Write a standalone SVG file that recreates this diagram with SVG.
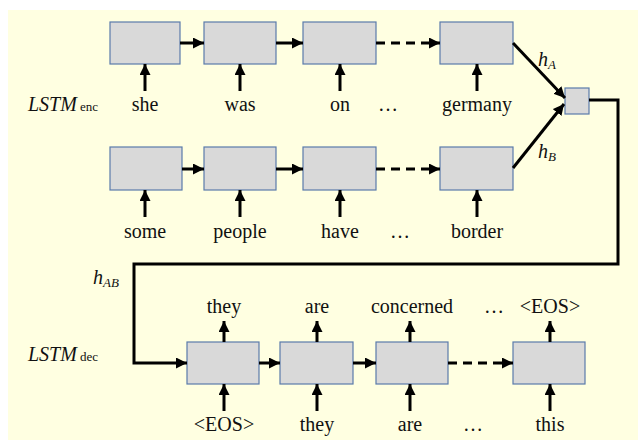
<svg xmlns="http://www.w3.org/2000/svg" width="638" height="440" viewBox="0 0 638 440">
<style>
.bx{fill:#d9d9d9;stroke:#5a7bab;stroke-width:1.2}
.ln{fill:none;stroke:#000;stroke-width:3}
.ar{marker-end:url(#ah)}
.ds{stroke-dasharray:9 6}
.t{font-family:'Liberation Serif',serif;font-size:20px;fill:#111}
.sub{font-size:13px}
</style>
<defs>
<marker id="ah" viewBox="0 0 10 10" refX="10" refY="5" markerWidth="11" markerHeight="11" markerUnits="userSpaceOnUse" orient="auto">
<path d="M0,0 L10,5 L0,10 z" fill="#000"/>
</marker>
</defs>
<rect x="8" y="10" width="630" height="430" fill="#ffffe1"/>
<g id="labels">
<text x="28" y="111" class="t" font-family="Liberation Serif" font-style="italic">LSTM<tspan class="sub" font-style="normal" dx="3">enc</tspan></text>
<text x="28" y="361" class="t" font-family="Liberation Serif" font-style="italic">LSTM<tspan class="sub" font-style="normal" dx="3">dec</tspan></text>
<text x="538" y="66" class="t" font-family="Liberation Serif" font-style="italic">h<tspan class="sub" dy="3">A</tspan></text>
<text x="538" y="158" class="t" font-family="Liberation Serif" font-style="italic">h<tspan class="sub" dy="3">B</tspan></text>
<text x="93" y="284" class="t" font-family="Liberation Serif" font-style="italic">h<tspan class="sub" dy="3">AB</tspan></text>
</g>
<g id="enc1"><rect class="bx" x="110" y="22" width="70" height="42"/><text class="t" font-family="Liberation Serif" text-anchor="middle" x="145" y="111">she</text></g>
<g id="enc2"><rect class="bx" x="204" y="22" width="72" height="42"/><text class="t" font-family="Liberation Serif" text-anchor="middle" x="240" y="111">was</text></g>
<g id="enc3"><rect class="bx" x="303" y="22" width="73" height="42"/><text class="t" font-family="Liberation Serif" text-anchor="middle" x="340" y="111">on</text></g>
<g id="enc4"><rect class="bx" x="440" y="22" width="73" height="42"/><text class="t" font-family="Liberation Serif" text-anchor="middle" x="477" y="111">germany</text></g>
<text class="t" font-family="Liberation Serif" text-anchor="middle" x="388" y="111">…</text>
<g id="encB1"><rect class="bx" x="110" y="147" width="72" height="43"/><text class="t" font-family="Liberation Serif" text-anchor="middle" x="145" y="238">some</text></g>
<g id="encB2"><rect class="bx" x="204" y="147" width="72" height="43"/><text class="t" font-family="Liberation Serif" text-anchor="middle" x="240" y="238">people</text></g>
<g id="encB3"><rect class="bx" x="303" y="147" width="73" height="43"/><text class="t" font-family="Liberation Serif" text-anchor="middle" x="340" y="238">have</text></g>
<g id="encB4"><rect class="bx" x="440" y="147" width="73" height="43"/><text class="t" font-family="Liberation Serif" text-anchor="middle" x="477" y="238">border</text></g>
<text class="t" font-family="Liberation Serif" text-anchor="middle" x="400" y="238">…</text>
<g id="merge"><rect class="bx" x="565" y="88" width="24" height="26"/></g>
<g id="dec1"><rect class="bx" x="187" y="342" width="72" height="42"/><text class="t" font-family="Liberation Serif" text-anchor="middle" x="224" y="313">they</text><text class="t" font-family="Liberation Serif" text-anchor="middle" x="224" y="431">&lt;EOS&gt;</text></g>
<g id="dec2"><rect class="bx" x="280" y="342" width="73" height="42"/><text class="t" font-family="Liberation Serif" text-anchor="middle" x="317" y="313">are</text><text class="t" font-family="Liberation Serif" text-anchor="middle" x="317" y="431">they</text></g>
<g id="dec3"><rect class="bx" x="376" y="342" width="72" height="42"/><text class="t" font-family="Liberation Serif" text-anchor="middle" x="412" y="313">concerned</text><text class="t" font-family="Liberation Serif" text-anchor="middle" x="410" y="431">are</text></g>
<g id="dec4"><rect class="bx" x="513" y="342" width="72" height="42"/><text class="t" font-family="Liberation Serif" text-anchor="middle" x="550" y="313">&lt;EOS&gt;</text><text class="t" font-family="Liberation Serif" text-anchor="middle" x="550" y="431">this</text></g>
<text class="t" font-family="Liberation Serif" text-anchor="middle" x="494" y="313">…</text>
<text class="t" font-family="Liberation Serif" text-anchor="middle" x="473" y="431">…</text>
<g id="connectors">
<line class="ln ar" x1="180" y1="43" x2="204" y2="43"/>
<line class="ln ar" x1="276" y1="43" x2="303" y2="43"/>
<line class="ln ar ds" x1="376" y1="43" x2="440" y2="43"/>
<line class="ln ar" x1="145" y1="91" x2="145" y2="64"/>
<line class="ln ar" x1="240" y1="91" x2="240" y2="64"/>
<line class="ln ar" x1="340" y1="91" x2="340" y2="64"/>
<line class="ln ar" x1="477" y1="91" x2="477" y2="64"/>
<line class="ln ar" x1="182" y1="169" x2="204" y2="169"/>
<line class="ln ar" x1="276" y1="169" x2="303" y2="169"/>
<line class="ln ar ds" x1="376" y1="169" x2="440" y2="169"/>
<line class="ln ar" x1="145" y1="217" x2="145" y2="190"/>
<line class="ln ar" x1="240" y1="217" x2="240" y2="190"/>
<line class="ln ar" x1="340" y1="217" x2="340" y2="190"/>
<line class="ln ar" x1="477" y1="217" x2="477" y2="190"/>
<line class="ln ar" x1="513" y1="43" x2="565" y2="98"/>
<line class="ln ar" x1="513" y1="168" x2="564" y2="104"/>
<path class="ln ar" d="M589,100 H618 V264 H134 V363 H187"/>
<line class="ln ar" x1="259" y1="363" x2="280" y2="363"/>
<line class="ln ar" x1="353" y1="363" x2="376" y2="363"/>
<line class="ln ar ds" x1="448" y1="363" x2="513" y2="363"/>
<line class="ln ar" x1="224" y1="342" x2="224" y2="321"/>
<line class="ln ar" x1="317" y1="342" x2="317" y2="321"/>
<line class="ln ar" x1="410" y1="342" x2="410" y2="321"/>
<line class="ln ar" x1="550" y1="342" x2="550" y2="321"/>
<line class="ln ar" x1="224" y1="411" x2="224" y2="384"/>
<line class="ln ar" x1="317" y1="411" x2="317" y2="384"/>
<line class="ln ar" x1="410" y1="411" x2="410" y2="384"/>
<line class="ln ar" x1="550" y1="411" x2="550" y2="384"/>
</g>
</svg>
